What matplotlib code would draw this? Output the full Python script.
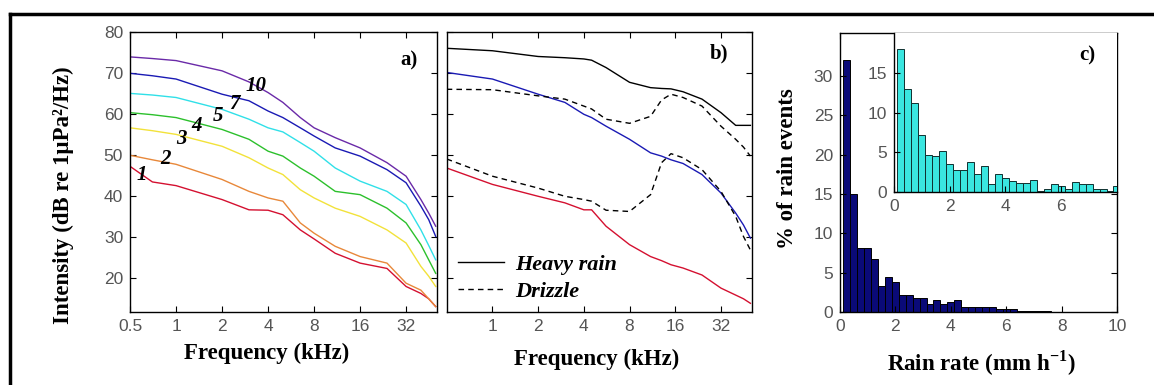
import numpy as np
import matplotlib.pyplot as plt
from matplotlib.lines import Line2D

plt.rcParams['font.family'] = ['Liberation Sans', 'DejaVu Sans']
plt.rcParams['mathtext.fontset'] = 'custom'
plt.rcParams['mathtext.rm'] = 'Liberation Serif:bold'
plt.rcParams['mathtext.bf'] = 'Liberation Serif:bold'

# panel a: spectra for different rain rates (mm/h)
freq_a = [0.5, 0.7, 1, 2, 3, 4, 5, 6.5, 8, 11, 16, 24, 32, 40, 45, 50]
rate_labels = ['1', '2', '3', '4', '5', '7', '10']
spec_1 = [47.3, 43.5, 42.6, 39.2, 36.7, 36.6, 35.5, 31.8, 29.6, 26.1, 23.7, 22.4, 18.0, 16.3, 15.0, 13.1]
spec_2 = [50.0, 48.9, 47.8, 44.1, 41.2, 39.6, 38.8, 33.5, 31.0, 27.8, 25.3, 23.7, 18.8, 17.1, 15.0, 13.1]
spec_3 = [56.7, 56.0, 55.1, 52.2, 49.4, 46.9, 45.3, 41.6, 39.6, 37.1, 35.1, 31.8, 28.6, 22.9, 20.5, 18.0]
spec_4 = [60.4, 59.9, 59.2, 56.3, 53.9, 51.0, 49.8, 46.9, 44.9, 41.2, 40.4, 37.1, 33.5, 28.2, 24.5, 21.2]
spec_5 = [65.1, 64.7, 64.1, 61.2, 58.8, 56.7, 55.7, 53.1, 51.0, 46.9, 43.7, 41.2, 38.0, 31.8, 28.0, 24.5]
spec_7 = [70.0, 69.4, 68.6, 64.9, 63.3, 60.8, 59.2, 56.7, 54.7, 51.8, 49.8, 46.5, 43.3, 37.6, 34.3, 30.2]
spec_10 = [74.0, 73.6, 73.1, 70.6, 67.9, 65.3, 62.9, 59.2, 56.7, 54.3, 51.8, 48.2, 44.9, 39.2, 35.9, 32.7]

# panel b: heavy rain vs drizzle
freq_b = [0.5, 1, 2, 3, 4, 4.5, 5.6, 8, 11, 13, 15, 18, 24, 32, 40, 45, 50]
heavy = [76.1, 75.5, 74.1, 73.8, 73.5, 73.2, 71.4, 67.8, 66.5, 66.3, 66.2, 65.5, 63.7, 60.4, 57.3, 57.3, 57.3]
rain_blue = [70.2, 68.6, 64.9, 62.9, 60.0, 59.2, 57.1, 53.9, 50.6, 49.8, 48.9, 48.0, 45.3, 40.8, 35.9, 33.0, 29.8]
drizzle_hi = [66.1, 66.0, 64.5, 63.7, 62.0, 61.3, 58.8, 57.8, 59.5, 63.5, 64.9, 64.1, 62.0, 57.1, 53.9, 52.0, 49.8]
drizzle_lo = [49.1, 44.9, 42.0, 40.0, 39.2, 38.8, 36.6, 36.3, 40.4, 48.2, 50.4, 49.4, 46.5, 41.2, 35.1, 30.2, 26.9]
rain_red = [46.9, 42.9, 40.0, 38.4, 36.7, 36.7, 32.7, 28.2, 25.3, 24.3, 23.3, 22.5, 20.8, 17.6, 15.9, 15.0, 13.9]

# panel c: rain rate histograms (0.25 mm/h bins)
hist_main = [32, 15, 8.2, 8.2, 6.8, 3.3, 4.5, 3.8, 2.2, 2.2, 1.8, 1.8, 1.1, 1.5, 1.1,
             1.3, 1.5, 0.7, 0.7, 0.7, 0.7, 0.7, 0.4, 0.4, 0.4, 0.2, 0.2, 0.2, 0.2, 0.2]
hist_inset = [18.0, 13.0, 11.2, 7.2, 4.7, 4.5, 5.2, 3.5, 2.8, 2.8, 3.7, 2.2, 3.2, 1.0, 2.2, 1.7,
              1.4, 1.1, 1.1, 1.5, 0.1, 0.4, 1.0, 0.75, 0.4, 1.2, 1.0, 1.0, 0.4, 0.4, 0.15, 0.75]
bin_w = 0.25

colors_a = ['#d41030', '#e8883a', '#f2e23a', '#2cc02c', '#30e0e8', '#1a1ab4', '#6a2aa8']
serif_b = dict(family='Liberation Serif', weight='bold')
tick_col = '#555555'
lab_fs = 16.5

fig = plt.figure(figsize=(11.54, 3.85), dpi=100)
ax_a = fig.add_axes([0.1127, 0.1888, 0.266, 0.7273])
ax_b = fig.add_axes([0.3871, 0.1888, 0.2643, 0.7273])
ax_c = fig.add_axes([0.7279, 0.1888, 0.240, 0.7247])
ax_i = fig.add_axes([0.7747, 0.502, 0.1932, 0.411])

for ax in (ax_a, ax_b, ax_c, ax_i):
    ax.tick_params(direction='in', top=True, right=True, length=4, width=0.8,
                   labelsize=12.5, labelcolor=tick_col, pad=5)
    for s in ax.spines.values():
        s.set_linewidth(1.0)

# ---- a)
specs = [spec_1, spec_2, spec_3, spec_4, spec_5, spec_7, spec_10]
for s, c in zip(specs, colors_a):
    ax_a.plot(freq_a, s, color=c, lw=1.0)
label_pos = [(0.595, 45.3), (0.85, 49.0), (1.09, 53.9), (1.37, 57.1), (1.89, 59.6), (2.41, 62.4), (3.35, 66.9)]
for lab, (x, y) in zip(rate_labels, label_pos):
    ax_a.text(x, y, lab, ha='center', va='center', fontsize=15, style='italic', **serif_b)

ticks_f = [0.5, 1, 2, 4, 8, 16, 32]
for ax in (ax_a, ax_b):
    ax.set_xscale('log', base=2)
    ax.set_xlim(0.5, 51)
    ax.set_ylim(11.7, 80)
    ax.minorticks_off()
    ax.set_yticks([20, 30, 40, 50, 60, 70, 80])
ax_a.set_xticks(ticks_f)
ax_a.set_xticklabels(['0.5', '1', '2', '4', '8', '16', '32'])
ax_a.set_ylabel('Intensity (dB re 1µPa²/Hz)', fontsize=lab_fs, **serif_b)
ax_a.yaxis.set_label_coords(-0.182, 0.42)
ax_a.set_xlabel('Frequency (kHz)', fontsize=lab_fs, **serif_b)
ax_a.xaxis.set_label_coords(0.446, -0.11)
ax_a.text(0.909, 0.90, 'a)', transform=ax_a.transAxes, ha='center', va='center', fontsize=15, **serif_b)

# ---- b)
ax_b.plot(freq_b, heavy, color='black', lw=1.0, label='Heavy rain')
ax_b.plot(freq_b, rain_blue, color='#1a1ab4', lw=1.0)
ax_b.plot(freq_b, drizzle_hi, color='black', lw=1.0, ls=(0, (4, 3)), label='Drizzle')
ax_b.plot(freq_b, drizzle_lo, color='black', lw=1.0, ls=(0, (4, 3)))
ax_b.plot(freq_b, rain_red, color='#d41030', lw=1.0)
ax_b.set_xticks(ticks_f[1:])
ax_b.set_xticklabels(['1', '2', '4', '8', '16', '32'])
ax_b.set_yticklabels([])
ax_b.set_xlabel('Frequency (kHz)', fontsize=lab_fs, **serif_b)
ax_b.xaxis.set_label_coords(0.49, -0.131)
ax_b.text(0.893, 0.926, 'b)', transform=ax_b.transAxes, ha='center', va='center', fontsize=15, **serif_b)
ax_b.legend(loc='lower left', bbox_to_anchor=(-0.03, -0.035), frameon=False, handlelength=2.1,
            handletextpad=0.5, labelspacing=0.3,
            prop=dict(family='Liberation Serif', weight='bold', style='italic', size=16))

# ---- c)
x_main = np.arange(len(hist_main)) * bin_w + bin_w
x_inset = np.arange(len(hist_inset)) * bin_w + bin_w
ax_c.bar(x_main, hist_main, width=bin_w, color='#0a0a78', edgecolor='black', lw=0.7)
ax_c.set_xlim(0, 10)
ax_c.set_ylim(0, 35.4)
ax_c.set_xticks([0, 2, 4, 6, 8, 10])
ax_c.set_yticks([0, 5, 10, 15, 20, 25, 30])
ax_c.set_xlabel(r'Rain rate (mm h$^{-1}$)', fontsize=lab_fs, **serif_b)
ax_c.xaxis.set_label_coords(0.509, -0.131)
ax_c.set_ylabel('% of rain events', fontsize=lab_fs, **serif_b)
ax_c.yaxis.set_label_coords(-0.15, 0.515)

ax_i.bar(x_inset, hist_inset, width=bin_w, color='#3ae6e0', edgecolor='#103030', lw=0.7)
ax_i.set_xlim(0, 8)
ax_i.set_ylim(0, 20)
ax_i.set_xticks([0, 2, 4, 6])
ax_i.set_yticks([0, 5, 10, 15])
ax_i.spines['top'].set_visible(False)
ax_i.spines['right'].set_visible(False)
ax_i.tick_params(top=False, right=False)
fig.text(0.9419, 0.857, 'c)', ha='center', va='center', fontsize=15, **serif_b)

# outer frame (top and left edges)
fig.add_artist(Line2D([10 / 1154, 1], [1 - 14 / 385] * 2, color='black', lw=2.5, transform=fig.transFigure))
fig.add_artist(Line2D([10 / 1154] * 2, [0, 1 - 14 / 385], color='black', lw=2.5, transform=fig.transFigure))

fig.savefig('out.png', dpi=100)
